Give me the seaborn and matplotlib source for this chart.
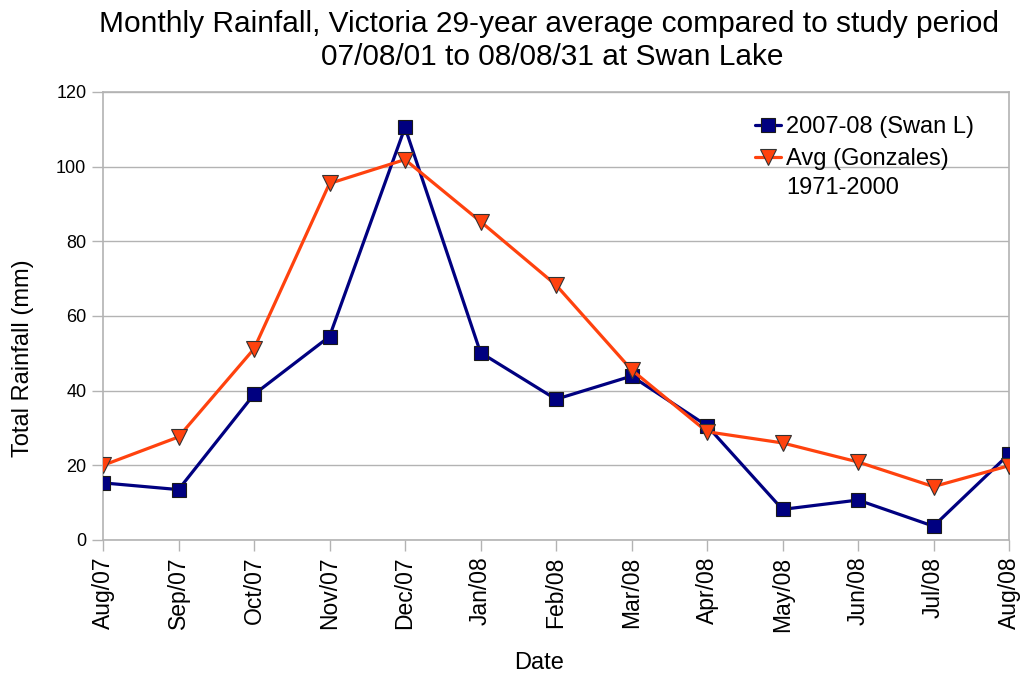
import matplotlib
matplotlib.use("Agg")
import matplotlib.pyplot as plt
import seaborn as sns
import pandas as pd

months = ["Aug/07", "Sep/07", "Oct/07", "Nov/07", "Dec/07", "Jan/08", "Feb/08",
          "Mar/08", "Apr/08", "May/08", "Jun/08", "Jul/08", "Aug/08"]
swan = [15.3, 13.5, 39.0, 54.5, 110.5, 50.2, 37.7, 43.9, 30.6, 8.2, 10.7, 3.7, 23.0]
avg = [20.0, 27.6, 51.2, 95.5, 101.9, 85.3, 68.3, 45.6, 29.0, 26.0, 20.9, 14.3, 19.9]
yticks = [0, 20, 40, 60, 80, 100, 120]

sns.set_theme(style="white")
plt.rcParams['font.family'] = ['Liberation Sans', 'DejaVu Sans']
plt.rcParams.update({"text.color": "black", "axes.labelcolor": "black",
                     "xtick.labelcolor": "black", "ytick.labelcolor": "black"})

df = pd.DataFrame({"pos": range(len(months)), "month": months, "swan": swan, "avg": avg})

W, H = 1024, 677
fig = plt.figure(figsize=(W/100, H/100), dpi=100)
ax = fig.add_axes([103/W, 1 - 540/H, (1009-103)/W, (540-92)/H])

sns.lineplot(data=df, x="pos", y="swan", ax=ax, color="#000080", linewidth=2.3,
             marker="s", markersize=10, markerfacecolor="#000080", markeredgecolor="#1a1a1a",
             markeredgewidth=0.8, label="2007-08 (Swan L)", zorder=3)
sns.lineplot(data=df, x="pos", y="avg", ax=ax, color="#ff420e", linewidth=2.3,
             marker="v", markersize=11, markerfacecolor="#ff420e", markeredgecolor="#333333",
             markeredgewidth=0.8, label="Avg (Gonzales)", zorder=4)

ax.set_xlim(0, len(months) - 1)
ax.set_ylim(0, 120)
ax.set_yticks(yticks)
ax.set_yticklabels([str(v) for v in yticks], fontsize=13)
ax.set_xticks(range(len(months)))
ax.set_xticklabels(months, rotation=90, fontsize=16.5)
ax.grid(axis="y", color="#b3b3b3", linewidth=1)
ax.grid(axis="x", visible=False)
for s in ax.spines.values():
    s.set_color("#b3b3b3")
    s.set_linewidth(1.2)
ax.tick_params(axis="both", which="both", length=8, color="#b3b3b3", width=1,
               direction="out", bottom=True, left=True, pad=4)
ax.set_xlabel("Date", fontsize=17, va="top")
ax.xaxis.set_label_coords((539-103)/906, (540-652)/448)
ax.set_ylabel("Total Rainfall (mm)", fontsize=17)
ax.yaxis.set_label_coords((34-103)/906, (540-358)/448)

fig.text(549/W, 1 - 32/H, "Monthly Rainfall, Victoria 29-year average compared to study period",
         ha="center", va="baseline", fontsize=21.5)
fig.text(552/W, 1 - 65/H, "07/08/01 to 08/08/31 at Swan Lake",
         ha="center", va="baseline", fontsize=21.5)

leg = ax.legend(loc="upper left", bbox_to_anchor=(755/W, 1 - 116/H),
                bbox_transform=fig.transFigure, frameon=False, fontsize=17,
                handlelength=1.1, handletextpad=0.2, labelspacing=0.42, borderpad=0,
                borderaxespad=0)
fig.text(786/W, 1 - 194/H, "1971-2000", ha="left", va="baseline", fontsize=17)

fig.savefig("out.png", dpi=100)
